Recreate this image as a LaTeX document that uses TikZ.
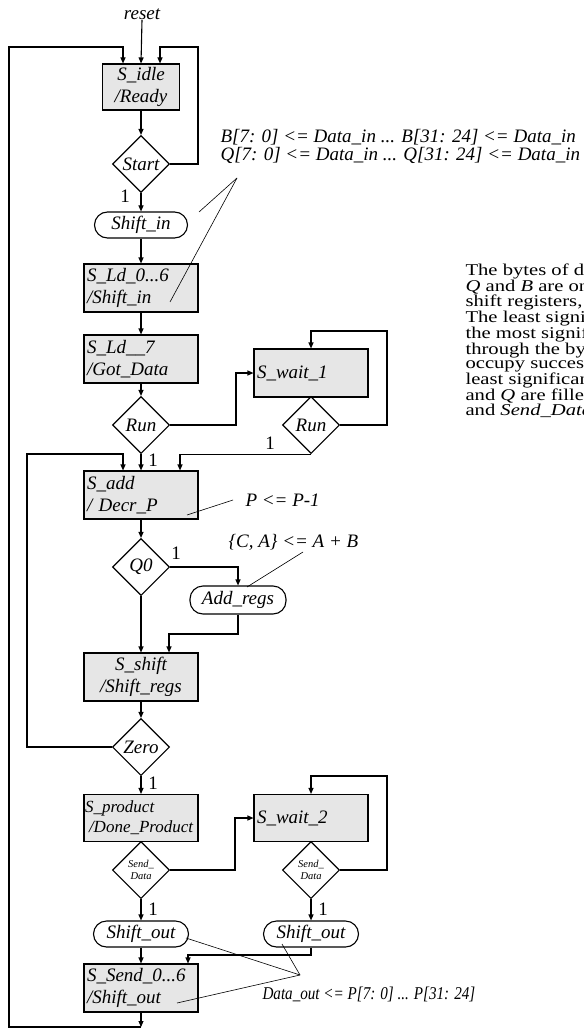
\documentclass[tikz,border=0pt]{standalone}
\usepackage{fontspec}
\setmainfont{Liberation Serif}
\newfontfamily\parafont{Liberation Serif}[FakeStretch=1.25]
\newfontfamily\narrowfont{Liberation Serif}[FakeStretch=0.84]
\usetikzlibrary{arrows.meta,shapes.geometric,calc}
\definecolor{boxfill}{HTML}{E6E6E6}
\begin{document}
\begin{tikzpicture}[x=1pt,y=-1pt,
  line width=1.1pt,
  arr/.style={-{Triangle[length=6pt,width=5pt]}},
  note/.style={line width=0.6pt},
  tfont/.style={font=\fontsize{19}{22.5}\selectfont\itshape},
  statebox/.style={draw, fill=boxfill, rectangle, inner xsep=3pt, inner ysep=0pt,
     minimum height=48pt, text width=108pt, align=left, tfont},
  dec/.style={draw, diamond, aspect=1, inner sep=0pt, minimum width=57pt,
     minimum height=57pt, tfont},
  smalldec/.style={dec, font=\fontsize{10.5}{12.5}\selectfont\itshape, align=center},
  oval/.style={draw, rectangle, rounded corners=13pt, minimum height=26pt,
     inner sep=0pt, tfont},
  lbl/.style={font=\fontsize{19}{21}\selectfont, inner sep=0pt},
  ann/.style={font=\fontsize{19}{21}\selectfont\itshape, inner sep=0pt, align=left}
]
\useasboundingbox (0,0) rectangle (583,1032);

% ---- main column ----
\node[tfont, inner sep=0pt] (reset) at (142,14) {reset};
\node[statebox, text width=71pt, minimum height=46pt, align=center] (idle) at (141,87) {S\_idle\\/Ready};
\node[dec] (start) at (141,164) {Start};
\node[oval, minimum width=93pt] (shiftin) at (141,225) {Shift\_in};
\node[statebox] (ld0) at (141,288) {S\_Ld\_0...6\\/Shift\_in};
\node[statebox] (ld7) at (141,359) {S\_Ld\_\_7\\/Got\_Data};
\node[dec] (run1) at (141,425) {Run};
\node[statebox] (wait1) at (311,373) {S\_wait\_1};
\node[dec] (run2) at (311,425) {Run};
\node[statebox] (add) at (141,495) {S\_add\\/ Decr\_P};
\node[dec] (q0) at (141,567) {Q0};
\node[oval, minimum width=96pt, minimum height=28pt] (addregs) at (238,600) {Add\_regs};
\node[statebox, align=center] (shift) at (141,677) {S\_shift\\/Shift\_regs};
\node[dec] (zero) at (141,747) {Zero};
\node[statebox, inner xsep=1pt, text width=112pt, minimum height=47pt,
      font=\fontsize{17}{20}\selectfont\itshape] (product) at (141,818) {S\_product\\\hspace*{4pt}/Done\_Product};
\node[statebox, minimum height=47pt] (wait2) at (311,818) {S\_wait\_2};
\node[smalldec] (sd1) at (141,870) {Send\_\\Data};
\node[smalldec] (sd2) at (311,870) {Send\_\\Data};
\node[oval, minimum width=95pt] (out1) at (141,934) {Shift\_out};
\node[oval, minimum width=95pt] (out2) at (311,934) {Shift\_out};
\node[statebox] (send) at (141,988) {S\_Send\_0...6\\/Shift\_out};

\coordinate (bot) at (141,1027);

% ---- connectors ----
\draw[arr] (reset.south) -- (idle.north);
\draw[arr] (bot) -- (9,1027) -- (9,47) -- ([xshift=-18pt]idle.north |- 0,47) -- ([xshift=-18pt]idle.north);
\draw[arr] (start.east) -- (198,164) -- (198,47) -- ([xshift=19pt]idle.north |- 0,47) -- ([xshift=19pt]idle.north);
\draw[arr] (idle.south) -- (start.north);
\draw[arr] (start.south) -- (shiftin.north);
\draw[arr] (shiftin.south) -- (ld0.north);
\draw[arr] (ld0.south) -- (ld7.north);
\draw[arr] (ld7.south) -- (run1.north);
\draw[arr] (run1.east) -- (236,425) |- (wait1.west);
\draw[arr] (run2.east) -- (387,425) -- (387,331) -- (wait1.north |- 0,331) -- (wait1.north);
\draw[arr] (run2.south) -- ([xshift=39pt]add.north |- run2.south) -- ([xshift=39pt]add.north);
\draw[arr] (run1.south) -- (add.north);
\draw[arr] (zero.west) -- (27,747) -- (27,454) -- ([xshift=-18pt]add.north |- 0,454) -- ([xshift=-18pt]add.north);
\draw[arr] (add.south) -- (q0.north);
\draw[arr] (q0.east) -- (addregs.north |- q0.east) -- (addregs.north);
\draw[arr] (q0.south) -- (shift.north);
\draw[arr] (addregs.south) -- (238,634) -- ([xshift=28pt]shift.north |- 0,634) -- ([xshift=28pt]shift.north);
\draw[arr] (shift.south) -- (zero.north);
\draw[arr] (zero.south) -- (product.north);
\draw[arr] (sd1.east) -- (235,870) |- (wait2.west);
\draw[arr] (sd2.east) -- (387,870) -- (387,776) -- (wait2.north |- 0,776) -- (wait2.north);
\draw[arr] (sd1.south) -- (out1.north);
\draw[arr] (sd2.south) -- (out2.north);
\draw[arr] (out1.south) -- (send.north);
\draw[arr] (out2.south) -- (311,955) -- ([xshift=47pt]send.north |- 0,955) -- ([xshift=47pt]send.north);
\draw[arr] (send.south) -- (bot);

% ---- "1" labels ----
\node[lbl] at (125,196) {1};
\node[lbl] at (153,460) {1};
\node[lbl] at (270,443) {1};
\node[lbl] at (176,553) {1};
\node[lbl] at (153,783) {1};
\node[lbl] at (153,909) {1};
\node[lbl] at (323,909) {1};

% ---- annotations ----
\node[ann, anchor=west] (tB) at (220,137) {B[7: 0] <= Data\_in ... B[31: 24] <= Data\_in};
\node[ann, anchor=west] (tQ) at (220,155) {Q[7: 0] <= Data\_in ... Q[31: 24] <= Data\_in};
\coordinate (ap1) at (237,178);
\draw[note] (ap1) -- (199,212);
\draw[note] (ap1) -- (170,302);

\node[ann, anchor=west] (tP) at (245,500) {P <= P-1};
\coordinate (pp) at (233,500);
\draw[note] (pp) -- (187,515);

\node[ann, anchor=west] (tCA) at (228,542) {\{C, A\} <= A + B};
\coordinate (ca) at (303,552);
\draw[note] (ca) -- (247,587);

\node[ann, anchor=west, font=\narrowfont\fontsize{18}{20}\selectfont\itshape] (tD) at (262,994) {Data\_out <= P[7: 0] ... P[31: 24]};
\coordinate (ap2) at (300,975);
\draw[note] (ap2) -- (186,938);
\draw[note] (ap2) -- (282,944);
\draw[note] (ap2) -- (177,1003);

% ---- paragraph (cut off by the picture edge, as in the reference) ----
\begin{scope}
\clip (0,0) rectangle (583,1032);
\node[anchor=north west, inner sep=0pt, align=left, font=\parafont\fontsize{16.5}{13.6}\selectfont] (para) at (465,263)
{The bytes of d\\
\textit{Q} and \textit{B} are on\\
shift registers,\\
The least signi\\
the most signif\\
through the by\\
occupy succes\\
least significan\\
and \textit{Q} are fille\\
and \textit{Send\_Data}};
\end{scope}
\end{tikzpicture}
\end{document}
